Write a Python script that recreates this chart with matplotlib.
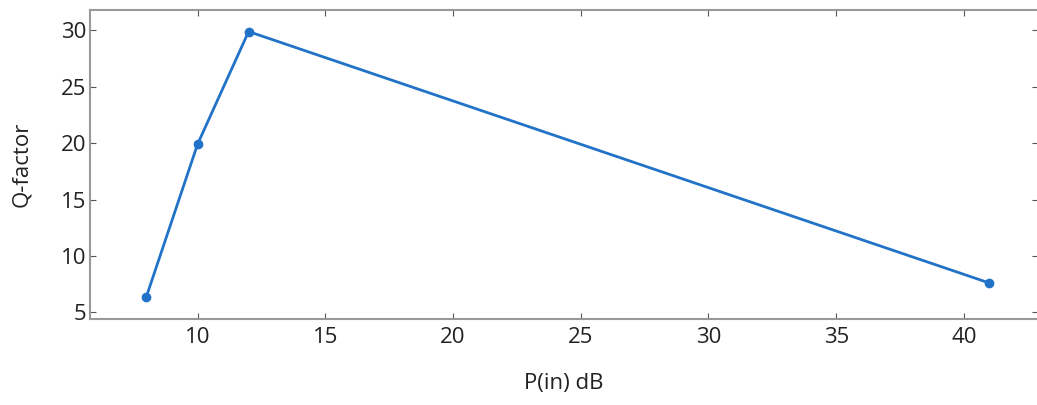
import matplotlib
matplotlib.use("Agg")
import matplotlib.pyplot as plt

# data
p_in = [8, 10, 12, 41]
q_factor = [6.4, 19.9, 29.9, 7.6]
xticks = [10, 15, 20, 25, 30, 35, 40]
yticks = [5, 10, 15, 20, 25, 30]

plt.rcParams['font.family'] = ['Open Sans', 'DejaVu Sans']

fig = plt.figure(figsize=(10.37, 4.05), dpi=100)
ax = fig.add_axes([0.087, 0.212, 0.914, 0.763])

ax.plot(p_in, q_factor, color='#2273c8', lw=2, marker='o', ms=6)

ax.set_xlim(5.8, 42.9)
ax.set_ylim(4.4, 31.8)
ax.set_xticks(xticks)
ax.set_yticks(yticks)
ax.tick_params(direction='in', length=4, width=0.8, colors='#555555',
               labelcolor='#222222', labelsize=16, top=True, right=True)
ax.tick_params(axis='x', pad=6)
ax.tick_params(axis='y', pad=3)
for s in ax.spines.values():
    s.set_color('#999999')
    s.set_linewidth(1.5)

ax.set_xlabel("P(in) dB", fontsize=16, color='#222222', labelpad=18)
ax.set_ylabel("Q-factor", fontsize=16, color='#222222')
ax.yaxis.set_label_coords(-0.061, 0.5)

fig.savefig("out.png", dpi=100)
